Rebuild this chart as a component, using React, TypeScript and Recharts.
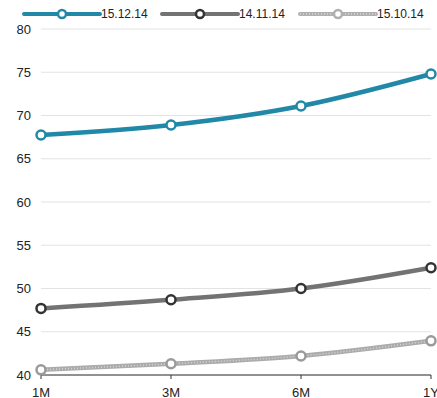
import { LineChart, Line, XAxis, YAxis, CartesianGrid } from "recharts";

const periods = ["1M", "3M", "6M", "1Y"];
const dec14 = [67.75, 68.9, 71.1, 74.8];
const nov14 = [47.7, 48.7, 50.0, 52.4];
const oct14 = [40.6, 41.3, 42.2, 43.95];
const yTicks = [40, 45, 50, 55, 60, 65, 70, 75, 80];

const series = [
  { key: "dec", name: "15.12.14", color: "#2188a8", values: dec14 },
  { key: "nov", name: "14.11.14", color: "#737373", values: nov14 },
  { key: "oct", name: "15.10.14", color: "#b0b0b0", values: oct14 },
];

const data = periods.map((p, i) => ({
  period: p,
  dec: dec14[i],
  nov: nov14[i],
  oct: oct14[i],
}));

const font = "'Liberation Sans', Arial, sans-serif";

function LegendRow() {
  const spots = [24, 162, 300];
  return (
    <svg width={437} height={28} style={{ position: "absolute", left: 0, top: 0 }}>
      {series.map((s, i) => {
        const x = spots[i];
        return (
          <g key={s.key}>
            <line x1={x} x2={x + 76} y1={14} y2={14} stroke={s.color} strokeWidth={4} strokeLinecap="round" />
            {s.key === "oct" && (
              <line x1={x} x2={x + 76} y1={14} y2={14} stroke="#d8d8d8" strokeWidth={1.5} strokeDasharray="1 2" />
            )}
            <circle cx={x + 38} cy={14} r={4} fill="#fff" stroke={s.key === "nov" ? "#333" : s.color} strokeWidth={2.5} />
            <text x={x + 77} y={18} fontSize={12} fontFamily={font} fill="#222">
              {s.name}
            </text>
          </g>
        );
      })}
    </svg>
  );
}

export default function App() {
  return (
    <div style={{ position: "absolute", left: 0, top: 0, width: 437, height: 398, background: "#fff", overflow: "hidden" }}>
      <LineChart width={437} height={398} data={data} margin={{ top: 29, right: 6, left: 0, bottom: 0 }}>
        <CartesianGrid vertical={false} stroke="#e3e3e3" />
        <XAxis
          dataKey="period"
          height={23}
          stroke="#333"
          tickSize={4}
          tickMargin={9}
          tick={{ fontSize: 13, fill: "#222", fontFamily: font }}
          interval={0}
        />
        <YAxis
          width={41}
          domain={[40, 80]}
          ticks={yTicks}
          axisLine={false}
          tickLine={false}
          tickSize={0}
          tickMargin={10}
          tick={{ fontSize: 13, fill: "#222", fontFamily: font }}
        />
        <Line
          type="monotone"
          dataKey="oct"
          stroke="#ababab"
          strokeWidth={4.5}
          dot={false}
          isAnimationActive={false}
        />
        <Line
          type="monotone"
          dataKey="oct"
          stroke="#d6d6d6"
          strokeWidth={1.5}
          strokeDasharray="1 2"
          dot={{ r: 4.5, fill: "#fff", stroke: "#9a9a9a", strokeWidth: 2.5, strokeDasharray: "" }}
          isAnimationActive={false}
        />
        <Line
          type="monotone"
          dataKey="nov"
          stroke="#737373"
          strokeWidth={4.5}
          dot={{ r: 4.5, fill: "#fff", stroke: "#333", strokeWidth: 2.5 }}
          isAnimationActive={false}
        />
        <Line
          type="monotone"
          dataKey="dec"
          stroke="#2188a8"
          strokeWidth={4.5}
          dot={{ r: 4.5, fill: "#fff", stroke: "#2188a8", strokeWidth: 2.5 }}
          isAnimationActive={false}
        />
      </LineChart>
      <LegendRow />
    </div>
  );
}
